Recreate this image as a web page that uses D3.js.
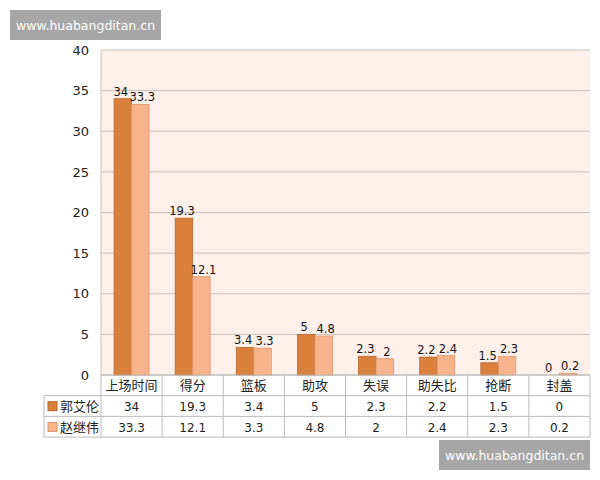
<!DOCTYPE html>
<html><head><meta charset="utf-8">
<script src="https://cdn.jsdelivr.net/npm/d3@7/dist/d3.min.js"></script>
<style>body{margin:0;background:#fff;font-family:"DejaVu Sans","Noto Sans CJK SC",sans-serif;}</style>
</head><body><svg id="c" width="600" height="480"></svg>
<script>
const categories = ["上场时间", "得分", "篮板", "助攻", "失误", "助失比", "抢断", "封盖"];
const seriesNames = ["郭艾伦", "赵继伟"];
const guo = [34, 19.3, 3.4, 5, 2.3, 2.2, 1.5, 0];
const zhao = [33.3, 12.1, 3.3, 4.8, 2, 2.4, 2.3, 0.2];
const yTicks = [0, 5, 10, 15, 20, 25, 30, 35, 40];

const colors = ["#d9803c", "#f7b48c"];
const strokes = ["#b8652a", "#e0946a"];
const series = [guo, zhao];

var svg = d3.select("#c");
var pLeft = 101, pRight = 590, pTop = 50, pBottom = 375;
var rowH = 20.7, tableLeft = 44;

var x = d3.scaleBand().domain(categories).range([pLeft, pRight]);
var xs = d3.scaleBand().domain([0, 1]).range([0, x.bandwidth()]).paddingInner(0).paddingOuter(0.75);
var y = d3.scaleLinear().domain([0, 40]).range([pBottom, pTop]);

svg.append("rect").attr("x", pLeft).attr("y", pTop).attr("width", pRight - pLeft).attr("height", pBottom - pTop).attr("fill", "#fdf0ea");

// 网格线
svg.selectAll(".grid").data(yTicks).enter().append("line")
  .attr("x1", pLeft).attr("x2", pRight)
  .attr("y1", d => y(d)).attr("y2", d => y(d))
  .attr("stroke", "#c8c0bc").attr("stroke-width", 1);
svg.append("line").attr("x1", pLeft).attr("x2", pLeft).attr("y1", pTop).attr("y2", pBottom).attr("stroke", "#c8c0bc");

var yAxis = svg.append("g").attr("transform", "translate(" + pLeft + ",0)")
  .call(d3.axisLeft(y).tickValues(yTicks).tickSize(0).tickPadding(12));
yAxis.select(".domain").remove();
yAxis.selectAll("text").attr("font-size", 13).attr("fill", "#222").attr("font-family", "DejaVu Sans");

// 柱子
series.forEach(function (vals, s) {
  svg.selectAll(".bar" + s).data(vals).enter().append("rect")
    .attr("x", (d, i) => x(categories[i]) + xs(s))
    .attr("y", d => y(d))
    .attr("width", xs.bandwidth())
    .attr("height", d => pBottom - y(d))
    .attr("fill", colors[s]).attr("stroke", strokes[s]).attr("stroke-width", 0.8);
  svg.selectAll(".lab" + s).data(vals).enter().append("text")
    .attr("x", (d, i) => x(categories[i]) + xs(s) + xs.bandwidth() / 2 + (s === 0 ? -2 : 2))
    .attr("y", d => y(d) - 3)
    .attr("text-anchor", "middle").attr("font-size", 11.5).attr("fill", "#111")
    .text(d => d);
});

// 数据表
var tl = "#bbb";
for (var r = 0; r <= 3; r++) {
  svg.append("line").attr("x1", r === 0 ? pLeft : tableLeft).attr("x2", pRight)
    .attr("y1", pBottom + r * rowH).attr("y2", pBottom + r * rowH).attr("stroke", tl);
}
svg.append("line").attr("x1", tableLeft).attr("x2", tableLeft).attr("y1", pBottom + rowH).attr("y2", pBottom + 3 * rowH).attr("stroke", tl);
svg.selectAll(".vline").data(categories.concat(["end"])).enter().append("line")
  .attr("x1", d => d === "end" ? pRight : x(d)).attr("x2", d => d === "end" ? pRight : x(d))
  .attr("y1", pBottom).attr("y2", pBottom + 3 * rowH).attr("stroke", tl);

svg.selectAll(".cat").data(categories).enter().append("text")
  .attr("x", d => x(d) + x.bandwidth() / 2).attr("y", pBottom + rowH / 2 + 5)
  .attr("text-anchor", "middle").attr("font-size", 13).attr("fill", "#222")
  .attr("font-family", "Noto Sans CJK SC").text(d => d);

series.forEach(function (vals, s) {
  var ry = pBottom + (s + 1) * rowH;
  svg.append("rect").attr("x", tableLeft + 4).attr("y", ry + 6).attr("width", 9).attr("height", 9)
    .attr("fill", colors[s]).attr("stroke", strokes[s]);
  svg.append("text").attr("x", tableLeft + 16).attr("y", ry + rowH / 2 + 5)
    .attr("font-size", 13).attr("fill", "#222").attr("font-family", "Noto Sans CJK SC").text(seriesNames[s]);
  svg.selectAll(".cell" + s).data(vals).enter().append("text")
    .attr("x", (d, i) => x(categories[i]) + x.bandwidth() / 2).attr("y", ry + rowH / 2 + 5)
    .attr("text-anchor", "middle").attr("font-size", 12).attr("fill", "#222").text(d => d);
});

// 水印
function mark(x0, y0) {
  svg.append("rect").attr("x", x0).attr("y", y0).attr("width", 151).attr("height", 30).attr("fill", "#a6a6a6");
  svg.append("text").attr("x", x0 + 75.5).attr("y", y0 + 19.5).attr("text-anchor", "middle")
    .attr("font-size", 12.5).attr("fill", "#fff").attr("font-family", "DejaVu Sans").text("www.huabangditan.cn");
}
mark(10, 10);
mark(439, 440);
</script></body></html>
